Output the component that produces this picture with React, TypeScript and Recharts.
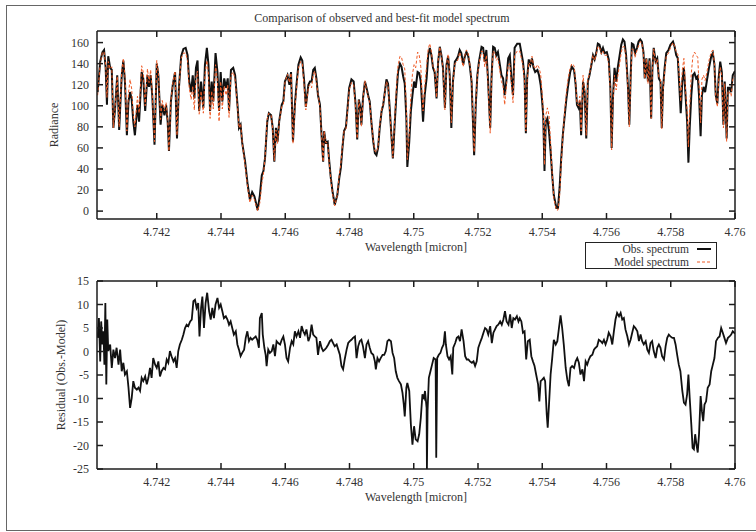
import { LineChart, Line, XAxis, YAxis, Legend } from "recharts"

const SERIF = "'Liberation Serif', 'DejaVu Serif', serif"
const TEXT = "#333"
const FRAME = "#1c1c1c"
const OBS_COLOR = "#111"
const MODEL_COLOR = "#ef5a26"

// wavelength grid, split in three stretches (micron)
const wlA = [
  4.74016, 4.74024, 4.74031, 4.74036, 4.74041, 4.74045, 4.74049, 4.74055, 4.7406, 4.74065,
  4.7407, 4.74077, 4.74083, 4.74091, 4.74096, 4.74101, 4.74107, 4.74112, 4.74117, 4.74122,
  4.74127, 4.74132, 4.7414, 4.74145, 4.74153, 4.74158, 4.74164, 4.74171, 4.74176, 4.74181,
  4.74186, 4.74193, 4.742, 4.74205, 4.74212, 4.74217, 4.74224, 4.74229, 4.74234, 4.74238,
  4.74244, 4.7425, 4.74257, 4.74263, 4.74269, 4.74276, 4.74283, 4.7429, 4.74296, 4.74301,
  4.74307, 4.74312, 4.74317, 4.74322, 4.74327, 4.74332, 4.74338, 4.74345, 4.7435, 4.74356,
  4.74361, 4.74366, 4.74371, 4.74376, 4.74383, 4.74389, 4.74394, 4.74399, 4.74404, 4.7441,
  4.74416, 4.74421, 4.74425, 4.74431, 4.74438, 4.74444, 4.74452, 4.74456, 4.74461, 4.74466,
  4.74475, 4.74483, 4.7449, 4.74497, 4.74504, 4.74514, 4.74521, 4.74527, 4.74532, 4.74537,
  4.74544, 4.74549, 4.74556, 4.74561, 4.74566, 4.74571, 4.74576, 4.74581, 4.74589, 4.74594,
  4.74599, 4.74607, 4.74613, 4.74618, 4.74624, 4.7463, 4.74635, 4.74641, 4.74648, 4.74653,
  4.74659, 4.74664, 4.74672, 4.74677,
]
const obsA = [
  113, 142, 151, 153, 136, 101, 147, 136, 134, 79,
  96, 129, 77, 129, 143, 123, 72, 104, 113, 106,
  85, 72, 101, 85, 132, 126, 95, 129, 118, 129,
  110, 63, 140, 129, 82, 101, 91, 101, 85, 57,
  104, 120, 132, 69, 117, 147, 154, 155, 148, 123,
  113, 129, 107, 136, 143, 95, 123, 98, 139, 155,
  139, 95, 123, 104, 150, 132, 95, 132, 104, 126,
  117, 126, 95, 134, 136, 129, 98, 79, 82, 65,
  47, 25, 11, 18, 14, 1, 15, 34, 38, 50,
  85, 93, 91, 79, 47, 79, 66, 85, 101, 104,
  123, 129, 120, 132, 66, 101, 120, 139, 146, 143,
  123, 99, 120, 123,
]
const modelA = [
  110, 140, 151, 151, 139, 108, 142, 135, 137, 79,
  97, 128, 80, 133, 145, 128, 76, 112, 125, 116,
  91, 80, 109, 93, 138, 132, 100, 135, 122, 134,
  112, 66, 143, 131, 87, 105, 95, 103, 87, 57,
  105, 122, 133, 72, 117, 145, 150, 150, 143, 117,
  106, 119, 96, 127, 133, 92, 114, 93, 129, 143,
  130, 88, 114, 97, 139, 123, 85, 123, 97, 119,
  110, 120, 89, 129, 132, 125, 97, 79, 83, 65,
  44, 22, 8, 15, 11, 0, 8, 26, 35, 50,
  88, 93, 91, 78, 48, 77, 64, 84, 99, 101,
  122, 130, 122, 131, 64, 98, 116, 136, 142, 140,
  118, 96, 118, 120,
]

const wlB = [
  4.74682, 4.74687, 4.74692, 4.74697, 4.74702, 4.74708, 4.74713, 4.74718, 4.74721, 4.74726,
  4.74732, 4.74737, 4.74742, 4.74747, 4.74754, 4.74762, 4.74768, 4.74773, 4.74778, 4.74783,
  4.74789, 4.74794, 4.74799, 4.74806, 4.74813, 4.74819, 4.74824, 4.74829, 4.74834, 4.74837,
  4.74842, 4.74848, 4.74853, 4.74858, 4.74863, 4.74868, 4.74874, 4.74879, 4.74884, 4.74889,
  4.74894, 4.749, 4.74905, 4.7491, 4.74915, 4.7492, 4.74925, 4.74931, 4.74935, 4.74941,
  4.74946, 4.74951, 4.74957, 4.74962, 4.74967, 4.74972, 4.74977, 4.7498, 4.74986, 4.74991,
  4.74996, 4.75001, 4.75006, 4.75012, 4.75017, 4.75022, 4.75026, 4.75029, 4.75034, 4.7504,
  4.75045, 4.7505, 4.75055, 4.7506, 4.75065, 4.75071, 4.75076, 4.75081, 4.75086, 4.75091,
  4.75097, 4.75102, 4.75107, 4.75112, 4.75117, 4.75122, 4.75128, 4.75133, 4.75138, 4.75143,
  4.75148, 4.75154, 4.75159, 4.75164, 4.75169, 4.75174, 4.7518, 4.75185, 4.75188, 4.75193,
  4.75198, 4.75203, 4.75211, 4.75216, 4.75221, 4.75226, 4.75231, 4.75238, 4.75242, 4.75247,
  4.75252, 4.75257, 4.75262, 4.75268, 4.75273, 4.75278, 4.75283, 4.75288, 4.75294, 4.75299,
  4.75304, 4.75309, 4.75314, 4.75322, 4.7533,
]
const obsB = [
  123, 134, 136, 126, 110, 101, 72, 47, 76, 65,
  66, 47, 31, 19, 6, 15, 31, 41, 60, 76,
  80, 98, 117, 125, 123, 101, 68, 106, 98, 82,
  107, 123, 117, 110, 104, 85, 66, 55, 53, 60,
  79, 95, 101, 113, 125, 121, 98, 69, 50, 85,
  110, 132, 140, 137, 128, 121, 88, 42, 66, 95,
  110, 123, 117, 132, 131, 123, 101, 85, 110, 126,
  148, 155, 148, 136, 132, 107, 142, 156, 148, 136,
  98, 139, 147, 129, 79, 123, 142, 144, 147, 153,
  150, 139, 147, 151, 148, 139, 123, 79, 53, 101,
  129, 142, 156, 155, 142, 153, 126, 79, 126, 156,
  155, 148, 151, 139, 129, 126, 110, 123, 145, 148,
  126, 110, 155, 159, 159,
]
const modelB = [
  117, 130, 133, 123, 111, 99, 71, 47, 76, 65,
  65, 45, 29, 17, 5, 15, 34, 45, 62, 76,
  78, 96, 115, 122, 120, 98, 69, 105, 96, 80,
  106, 124, 115, 108, 103, 85, 67, 57, 56, 61,
  81, 96, 102, 113, 123, 119, 96, 69, 51, 89,
  116, 138, 147, 146, 139, 135, 96, 49, 74, 110,
  130, 139, 136, 151, 148, 137, 110, 95, 118, 138,
  154, 159, 151, 137, 134, 108, 143, 156, 147, 135,
  96, 139, 149, 130, 84, 122, 140, 141, 144, 151,
  145, 137, 148, 153, 150, 141, 125, 81, 56, 103,
  128, 140, 152, 151, 137, 148, 122, 74, 124, 152,
  150, 143, 145, 133, 123, 119, 101, 117, 139, 140,
  121, 103, 148, 152, 152,
]

const wlC = [
  4.7534, 4.75345, 4.75349, 4.75353, 4.75358, 4.75363, 4.75368, 4.75373, 4.75378, 4.75385,
  4.7539, 4.75395, 4.75399, 4.75403, 4.75407, 4.75411, 4.75416, 4.75421, 4.75426, 4.75431,
  4.75436, 4.75444, 4.75449, 4.75454, 4.75459, 4.75464, 4.7547, 4.75475, 4.7548, 4.75487,
  4.75492, 4.75499, 4.75504, 4.75508, 4.75513, 4.75517, 4.75521, 4.75527, 4.75532, 4.75537,
  4.75542, 4.75547, 4.75553, 4.75558, 4.75563, 4.75568, 4.75573, 4.75578, 4.75584, 4.75589,
  4.75594, 4.75601, 4.75607, 4.75612, 4.75616, 4.7562, 4.75625, 4.7563, 4.75635, 4.75641,
  4.75646, 4.75651, 4.75656, 4.75661, 4.75667, 4.75671, 4.75675, 4.75679, 4.75684, 4.75689,
  4.75695, 4.757, 4.75705, 4.7571, 4.75715, 4.75719, 4.75724, 4.75729, 4.75734, 4.75739,
  4.75743, 4.75747, 4.75753, 4.75758, 4.75763, 4.75768, 4.75772, 4.75776, 4.75781, 4.75786,
  4.75793, 4.75799, 4.75807, 4.75812, 4.75817, 4.75822, 4.75827, 4.75831, 4.75836, 4.75841,
  4.75846, 4.75851, 4.75855, 4.75859, 4.75864, 4.75869, 4.75874, 4.75879, 4.75884, 4.75888,
  4.75893, 4.75897, 4.75902, 4.75907, 4.75912, 4.75919, 4.75926, 4.75931, 4.75936, 4.7594,
  4.75945, 4.75949, 4.75954, 4.75959, 4.75964, 4.75968, 4.75974, 4.75978, 4.75983, 4.75988,
  4.75993, 4.76,
]
const obsC = [
  142, 126, 74, 126, 144, 139, 145, 136, 132, 134,
  129, 120, 107, 91, 38, 85, 88, 76, 57, 34,
  15, 3, 3, 22, 50, 72, 91, 106, 118, 132,
  137, 134, 120, 101, 98, 104, 72, 123, 113, 69,
  123, 129, 139, 148, 144, 150, 159, 158, 151, 155,
  150, 151, 144, 117, 60, 107, 136, 123, 136, 148,
  158, 163, 161, 148, 117, 82, 126, 159, 158, 150,
  155, 161, 163, 161, 151, 126, 145, 123, 145, 88,
  136, 155, 142, 145, 126, 123, 79, 117, 136, 150,
  153, 158, 161, 156, 148, 145, 117, 93, 123, 136,
  110, 85, 46, 79, 110, 129, 131, 126, 128, 110,
  71, 110, 118, 113, 123, 136, 147, 150, 139, 110,
  102, 126, 142, 132, 82, 123, 69, 117, 117, 113,
  129, 133,
]
const modelC = [
  138, 122, 76, 124, 141, 139, 147, 138, 135, 139,
  136, 130, 114, 97, 44, 91, 98, 91, 65, 35,
  12, 1, 1, 14, 45, 70, 95, 112, 125, 136,
  140, 138, 122, 102, 100, 109, 76, 129, 115, 72,
  125, 130, 140, 148, 143, 149, 156, 156, 149, 152,
  148, 148, 140, 114, 58, 103, 129, 115, 128, 140,
  151, 156, 156, 145, 115, 80, 122, 154, 153, 146,
  153, 157, 161, 160, 149, 126, 145, 121, 143, 88,
  137, 154, 140, 144, 127, 125, 78, 114, 132, 147,
  150, 155, 160, 157, 151, 149, 125, 104, 134, 145,
  115, 95, 61, 99, 131, 147, 151, 148, 146, 120,
  84, 125, 129, 124, 131, 143, 151, 153, 140, 108,
  99, 123, 137, 128, 79, 121, 66, 114, 113, 109,
  125, 129,
]

// residual (Obs. - Model)
const resWlA = [
  4.74016, 4.7402, 4.74024, 4.74027, 4.74031, 4.74034, 4.74037, 4.7404, 4.74043, 4.74046,
  4.74049, 4.74055, 4.7406, 4.74065, 4.7407, 4.74075, 4.74081, 4.74086, 4.74091, 4.74096,
  4.74101, 4.74107, 4.74112, 4.74117, 4.74122, 4.74127, 4.74132, 4.74138, 4.74143, 4.74148,
  4.74153, 4.74158, 4.74164, 4.74169, 4.74174, 4.74179, 4.74184, 4.74189, 4.74195, 4.742,
  4.74205, 4.7421, 4.74215, 4.74221, 4.74226, 4.74231, 4.74236, 4.74241, 4.74246, 4.74252,
  4.74257, 4.74262, 4.74267, 4.74272, 4.74278, 4.74283, 4.74288, 4.74293, 4.74298, 4.74304,
  4.74309, 4.74314, 4.74319, 4.74324, 4.74329, 4.74333, 4.74338, 4.74342, 4.74347, 4.74352,
  4.74357, 4.74363, 4.74368, 4.74373, 4.74378, 4.74383, 4.74389, 4.74394, 4.74399, 4.74404,
  4.74409, 4.74415, 4.7442, 4.74425, 4.7443, 4.74435, 4.7444, 4.74446, 4.74451, 4.74456,
  4.74461, 4.74466, 4.74472, 4.74477, 4.74482, 4.74487, 4.74492, 4.74497, 4.74503, 4.74508,
  4.74513, 4.74518, 4.74521, 4.74527, 4.7453, 4.74535, 4.74539, 4.74542, 4.74547, 4.74552,
  4.74558, 4.74563, 4.74568, 4.74573, 4.74578, 4.74584, 4.74589, 4.74594, 4.74599, 4.74604,
  4.74609, 4.74615, 4.7462, 4.74625, 4.7463, 4.74635, 4.74641, 4.74646, 4.74651, 4.74656,
  4.74661, 4.74666, 4.74672, 4.74677,
]
const resA = [
  2.9, 7.1, -2.1, 6.4, 1.5, 4.3, -2.8, 10.3, -7.0, 6.8,
  0.1, 1.5, -3.5, 0.4, -1.4, 0.8, -2.8, 0.4, -4.2, -2.4,
  -4.9, -4.2, -7.7, -12.0, -9.9, -6.3, -7.7, -8.1, -7.7, -8.4,
  -5.6, -6.3, -5.3, -7.0, -5.6, -3.5, -5.6, -1.4, -2.8, -3.5,
  -2.1, -5.3, -4.2, -3.5, -3.8, -1.7, -2.4, 0.1, -1.0, -2.1,
  -1.4, -3.5, 0.1, 1.5, 2.5, 3.6, 5.0, 5.7, 5.4, 6.4,
  6.8, 10.7, 11.0, 9.3, 10.3, 3.2, 9.3, 11.7, 5.0, 10.3,
  12.5, 8.6, 6.8, 9.3, 7.1, 10.0, 11.4, 9.3, 10.0, 8.6,
  7.1, 7.5, 6.8, 5.7, 6.4, 5.0, 3.6, 4.3, 1.5, 0.4,
  -1.0, -0.3, 0.4, 2.9, 4.3, 2.2, 2.9, 2.5, 2.9, 3.2,
  2.5, 0.8, 7.1, 8.2, 3.6, 0.8, -0.7, -3.1, 0.4, -0.3,
  0.1, 1.5, -1.0, 2.2, 1.8, 1.5, 2.5, 3.2, 1.5, -1.4,
  -2.1, 0.8, 2.2, 1.5, 4.3, 3.2, 4.3, 2.9, 5.4, 4.3,
  3.6, 4.7, 2.2, 3.2,
]

const resWlB = [
  4.74682, 4.74687, 4.74692, 4.74697, 4.74702, 4.74708, 4.74713, 4.74718, 4.74723, 4.74728,
  4.74734, 4.74739, 4.74744, 4.74749, 4.74754, 4.7476, 4.74765, 4.7477, 4.74775, 4.7478,
  4.74785, 4.74791, 4.74796, 4.74801, 4.74806, 4.74811, 4.74817, 4.74822, 4.74827, 4.74832,
  4.74837, 4.74842, 4.74848, 4.74853, 4.74858, 4.74863, 4.74868, 4.74874, 4.74879, 4.74882,
  4.74887, 4.74892, 4.74897, 4.74903, 4.74908, 4.74913, 4.74918, 4.74923, 4.74929, 4.74934,
  4.74939, 4.74944, 4.74949, 4.74954, 4.7496, 4.74965, 4.74969, 4.74972, 4.74977, 4.7498,
  4.74986, 4.74991, 4.74996, 4.75001, 4.75006, 4.75012, 4.75017, 4.75022, 4.75027, 4.75032,
  4.75035, 4.7504, 4.75041, 4.75043, 4.75047, 4.75052, 4.75057, 4.75062, 4.75068, 4.7507,
  4.75073, 4.75078, 4.75083, 4.75088, 4.75093, 4.75097, 4.751, 4.75105, 4.7511, 4.75115,
  4.7512, 4.75123, 4.75129, 4.75134, 4.75139, 4.75144, 4.75149, 4.75155, 4.7516, 4.75165,
  4.7517, 4.75175, 4.75181, 4.75186, 4.75191, 4.75196, 4.75201, 4.75206, 4.75212, 4.75217,
  4.75222, 4.75227, 4.75232, 4.75238, 4.75243, 4.75248, 4.75253, 4.75258, 4.75263, 4.75269,
  4.75274, 4.75279, 4.75284, 4.75289, 4.75295, 4.753, 4.75305, 4.7531, 4.75315, 4.75321,
  4.75326, 4.7533,
]
const resB = [
  5.7, 3.6, 3.2, 2.9, -0.7, 2.2, 0.8, 0.1, 0.4, 0.8,
  1.5, 2.2, 2.5, 1.8, 1.1, 1.5, 0.4, -0.7, -3.1, -3.8,
  -1.7, 0.4, 1.8, 2.2, 2.5, 2.9, 3.2, -1.4, 1.1, 2.2,
  2.5, 1.1, -1.4, 1.5, 2.2, 0.8, -0.3, -0.7, -2.1, -3.8,
  -1.4, -2.1, -1.4, -0.7, -0.7, 0.1, 2.2, 2.5, 2.2, -0.3,
  -1.4, -4.2, -5.6, -6.3, -7.0, -8.8, -11.3, -13.8, -7.7, -6.7,
  -8.4, -15.5, -19.8, -15.9, -18.7, -19.1, -17.6, -14.1, -9.1, -9.9,
  -8.4, -12.0, -25.0, -12.7, -5.6, -4.2, -2.8, -1.4, -1.7, -22.6,
  -1.4, -0.7, -0.3, 0.8, 1.5, 4.3, 1.5, -1.0, -1.7, -1.0,
  -4.9, 0.8, 1.8, 2.9, 3.2, 2.2, 4.7, 2.2, -1.0, -1.7,
  -1.7, -2.1, -2.4, -2.1, -3.1, -2.1, 0.8, 1.8, 2.9, 4.0,
  5.0, 4.7, 3.6, 5.4, 1.8, 4.0, 4.7, 5.4, 5.7, 6.4,
  5.7, 6.8, 8.6, 6.4, 5.7, 7.9, 5.0, 7.1, 6.8, 7.5,
  6.4, 7.1,
]

const resWlC = [
  4.75335, 4.7534, 4.75345, 4.7535, 4.75355, 4.75361, 4.75366, 4.75371, 4.75376, 4.75381,
  4.75387, 4.75391, 4.75395, 4.754, 4.75405, 4.75409, 4.75414, 4.75417, 4.75421, 4.75426,
  4.75431, 4.75436, 4.75442, 4.75447, 4.75452, 4.75457, 4.75462, 4.75467, 4.75473, 4.75478,
  4.75483, 4.75488, 4.75493, 4.75499, 4.75504, 4.75509, 4.75514, 4.75519, 4.75525, 4.7553,
  4.75535, 4.7554, 4.75545, 4.7555, 4.75556, 4.75561, 4.75566, 4.75571, 4.75576, 4.75582,
  4.75587, 4.75592, 4.75597, 4.75602, 4.75607, 4.75613, 4.75618, 4.75623, 4.75628, 4.75633,
  4.75639, 4.75644, 4.75649, 4.75654, 4.75659, 4.75665, 4.7567, 4.75675, 4.7568, 4.75685,
  4.7569, 4.75696, 4.75701, 4.75706, 4.75711, 4.75716, 4.75722, 4.75727, 4.75732, 4.75737,
  4.75742, 4.75747, 4.75753, 4.75758, 4.75763, 4.75768, 4.75773, 4.75779, 4.75784, 4.75789,
  4.75794, 4.75799, 4.75805, 4.7581, 4.75815, 4.7582, 4.75825, 4.7583, 4.75836, 4.75841,
  4.75846, 4.75851, 4.75855, 4.75859, 4.75864, 4.75868, 4.75872, 4.75876, 4.7588, 4.75884,
  4.75888, 4.75893, 4.75897, 4.75901, 4.75905, 4.7591, 4.75915, 4.75921, 4.75926, 4.75931,
  4.75936, 4.75941, 4.75947, 4.75952, 4.75957, 4.75962, 4.75967, 4.75972, 4.75978, 4.75983,
  4.75988, 4.75993, 4.76,
]
const resC = [
  6.4, 4.0, 4.3, -1.7, 2.2, 2.5, -1.0, -2.1, -3.1, -4.9,
  -7.0, -10.6, -6.3, -6.0, -5.6, -6.3, -13.4, -16.2, -11.3, -4.9,
  -1.4, 2.5, 1.5, 2.2, 5.0, 7.7, 5.0, 1.5, -3.5, -6.0,
  -7.4, -3.5, -3.1, -3.5, -2.1, -1.4, -2.4, -4.9, -3.8, -6.3,
  -2.1, -2.8, -1.7, -1.0, -0.7, 0.4, 0.8, 1.1, 2.5, 2.2,
  1.8, 2.5, 1.5, 2.5, 4.0, 3.2, 1.5, 4.3, 6.8, 8.2,
  7.5, 8.2, 6.8, 7.1, 4.7, 3.2, 1.5, 2.5, 4.0, 5.4,
  5.0, 4.3, 2.2, 3.6, 2.2, 1.5, 2.2, 0.4, -0.3, 1.8,
  2.2, 0.1, -1.4, 0.8, 1.5, 0.8, -1.0, -1.7, 1.1, 2.9,
  3.6, 3.2, 2.9, 2.9, 1.5, -0.7, -2.8, -4.2, -8.4, -10.9,
  -11.3, -9.1, -4.9, -9.9, -15.5, -20.5, -20.8, -17.6, -19.8, -21.5,
  -17.6, -9.5, -12.7, -14.8, -11.3, -10.6, -7.7, -7.0, -4.2, -2.8,
  -1.4, 2.2, 2.9, 3.2, 5.0, 4.0, 2.9, 1.8, 2.9, 3.2,
  3.6, 4.3, 3.8,
]

const xTicks = [4.742, 4.744, 4.746, 4.748, 4.75, 4.752, 4.754, 4.756, 4.758, 4.76]
const radianceTicks = [0, 20, 40, 60, 80, 100, 120, 140, 160]
const residualTicks = [-25, -20, -15, -10, -5, 0, 5, 10, 15]
const legendOrder = ["obs", "model"]

const xDomain: [number, number] = [4.74014, 4.76]
const radianceDomain: [number, number] = [-7.5, 171]
const residualDomain: [number, number] = [-25, 15]

const wavelength = [...wlA, ...wlB, ...wlC]
const observed = [...obsA, ...obsB, ...obsC]
const modelled = [...modelA, ...modelB, ...modelC]
const spectrum = wavelength.map((w, i) => ({ w, obs: observed[i], model: modelled[i] }))

const resWavelength = [...resWlA, ...resWlB, ...resWlC]
const resValues = [...resA, ...resB, ...resC]
const residualData = resWavelength.map((w, i) => ({ w, r: resValues[i] }))

const tickFont = { fill: TEXT, fontSize: 12, fontFamily: SERIF }
const noLabel = () => ""

function SpectrumLegend({ payload }: any) {
  const items = [...(payload ?? [])].sort(
    (a: any, b: any) => legendOrder.indexOf(a.dataKey) - legendOrder.indexOf(b.dataKey)
  )
  return (
    <div
      style={{
        width: 130,
        height: 25,
        border: "1px solid #222",
        background: "#fff",
        fontFamily: SERIF,
        fontSize: 12,
        color: TEXT,
        overflow: "hidden",
      }}
    >
      {items.map((entry: any) => (
        <div
          key={entry.value}
          style={{ display: "flex", justifyContent: "flex-end", alignItems: "center", height: 12.5, lineHeight: "12.5px" }}
        >
          <span style={{ fontSize: 11.5 }}>{entry.value}</span>
          <svg width={27} height={6}>
            <line
              x1={8}
              x2={22}
              y1={3}
              y2={3}
              stroke={entry.color}
              strokeWidth={entry.payload?.strokeWidth ?? 1}
              strokeDasharray={entry.payload?.strokeDasharray}
            />
          </svg>
        </div>
      ))}
    </div>
  )
}

// frame axes: inward ticks on all four sides, gnuplot style
function frameAxes(yDomain: [number, number], yTicks: number[], yLabel: string, yLabelOffset: number) {
  return [
    <XAxis
      key="xt"
      xAxisId="top"
      orientation="top"
      type="number"
      dataKey="w"
      domain={xDomain}
      ticks={xTicks}
      allowDataOverflow
      height={1}
      tickSize={-6}
      tickFormatter={noLabel}
      stroke={FRAME}
      strokeWidth={1.5}
      interval={0}
    />,
    <XAxis
      key="xb"
      type="number"
      dataKey="w"
      domain={xDomain}
      ticks={xTicks}
      allowDataOverflow
      height={51}
      tickSize={-6}
      tickMargin={14}
      tick={tickFont}
      stroke={FRAME}
      strokeWidth={1.5}
      interval={0}
      label={{
        value: "Wavelength [micron]",
        position: "insideBottom",
        offset: 19,
        fill: TEXT,
        fontSize: 12,
        fontFamily: SERIF,
      }}
    />,
    <YAxis
      key="yl"
      type="number"
      domain={yDomain}
      ticks={yTicks}
      allowDataOverflow
      width={97}
      tickSize={-6}
      tickMargin={14}
      tick={tickFont}
      stroke={FRAME}
      strokeWidth={1.5}
      interval={0}
      label={{
        value: yLabel,
        angle: -90,
        position: "insideLeft",
        offset: yLabelOffset,
        fill: TEXT,
        fontSize: 12,
        fontFamily: SERIF,
        style: { textAnchor: "middle" },
      }}
    />,
    <YAxis
      key="yr"
      yAxisId="right"
      orientation="right"
      type="number"
      domain={yDomain}
      ticks={yTicks}
      allowDataOverflow
      width={1}
      tickSize={-6}
      tickFormatter={noLabel}
      stroke={FRAME}
      strokeWidth={1.5}
      interval={0}
    />,
  ]
}

export default function App() {
  return (
    <div
      style={{
        position: "fixed",
        left: 0,
        top: 0,
        width: 756,
        height: 532,
        background: "#fff",
        overflow: "hidden",
      }}
    >
      <div
        style={{
          position: "absolute",
          left: 6,
          top: 5,
          width: 770,
          height: 524,
          border: "1.5px solid #666",
        }}
      />
      <div
        style={{
          position: "absolute",
          left: 132,
          top: 12,
          width: 500,
          textAlign: "center",
          fontFamily: SERIF,
          fontSize: 12,
          lineHeight: "12px",
          color: TEXT,
        }}
      >
        Comparison of observed and best-fit model spectrum
      </div>

      <div style={{ position: "absolute", left: 0, top: 0 }}>
        <LineChart width={756} height={270} data={spectrum} margin={{ top: 30, right: 20, bottom: 0, left: 0 }}>
          {frameAxes(radianceDomain, radianceTicks, "Radiance", 54)}
          <Legend
            layout="horizontal"
            verticalAlign="middle"
            align="center"
            wrapperStyle={{ left: 585, top: 242, width: 132, height: 27 }}
            content={(props: any) => <SpectrumLegend payload={props.payload} />}
          />
          <Line
            type="linear"
            dataKey="obs"
            name="Obs. spectrum"
            stroke={OBS_COLOR}
            strokeWidth={2}
            dot={false}
            isAnimationActive={false}
          />
          <Line
            type="linear"
            dataKey="model"
            name="Model spectrum"
            stroke={MODEL_COLOR}
            strokeWidth={1}
            strokeDasharray="3 2"
            dot={false}
            isAnimationActive={false}
          />
        </LineChart>
      </div>

      <div style={{ position: "absolute", left: 0, top: 250 }}>
        <LineChart width={756} height={270} data={residualData} margin={{ top: 30, right: 20, bottom: 0, left: 0 }}>
          {frameAxes(residualDomain, residualTicks, "Residual (Obs.-Model)", 61)}
          <Line
            type="linear"
            dataKey="r"
            name="Residual"
            stroke={OBS_COLOR}
            strokeWidth={1.8}
            dot={false}
            isAnimationActive={false}
          />
        </LineChart>
      </div>
    </div>
  )
}
